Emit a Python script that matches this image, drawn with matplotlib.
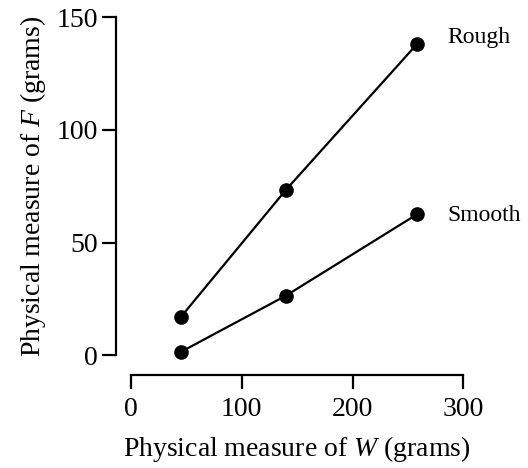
import matplotlib
matplotlib.use("Agg")
import matplotlib.pyplot as plt

weights = [45, 140, 258]
rough = [17, 73.5, 138]
smooth = [1.5, 26.5, 62.5]
series_labels = ["Rough", "Smooth"]
xticks = [0, 100, 200, 300]
yticks = [0, 50, 100, 150]

plt.rcParams['font.family'] = ['Liberation Serif', 'DejaVu Serif']
plt.rcParams['mathtext.fontset'] = 'custom'
plt.rcParams['mathtext.rm'] = 'Liberation Serif'
plt.rcParams['mathtext.it'] = 'Liberation Serif:italic'

fig = plt.figure(figsize=(5.28, 4.68), dpi=100)
ax = fig.add_axes([131/528, 1-355.3/468, (463.3-131)/528, (355.3-17.3)/468])

for ys, lab, dy in [(rough, series_labels[0], 5), (smooth, series_labels[1], -1)]:
    ax.plot(weights, ys, color='black', lw=1.6, marker='o', ms=9.5, clip_on=False)
    ax.annotate(lab, (weights[-1], ys[-1]), xytext=(22, dy), textcoords='offset points',
                va='center', ha='left', fontsize=17, annotation_clip=False)

ax.set_xlim(0, 300)
ax.set_ylim(0, 150)
ax.set_xticks(xticks)
ax.set_yticks(yticks)
ax.spines['top'].set_visible(False)
ax.spines['right'].set_visible(False)
ax.spines['left'].set_position(('outward', 11))
ax.spines['bottom'].set_position(('outward', 14))
for s in ['left', 'bottom']:
    ax.spines[s].set_linewidth(1.6)
ax.tick_params(direction='out', length=10, width=1.6, labelsize=20)
ax.tick_params(axis='y', pad=3)
ax.tick_params(axis='x', pad=6)
ax.set_xlabel('Physical measure of $\\mathit{W}$ (grams)', fontsize=20, labelpad=9)
ax.set_ylabel('Physical measure of $\\mathit{F}$ (grams)', fontsize=20, labelpad=6)

fig.savefig('out.png', dpi=100)
